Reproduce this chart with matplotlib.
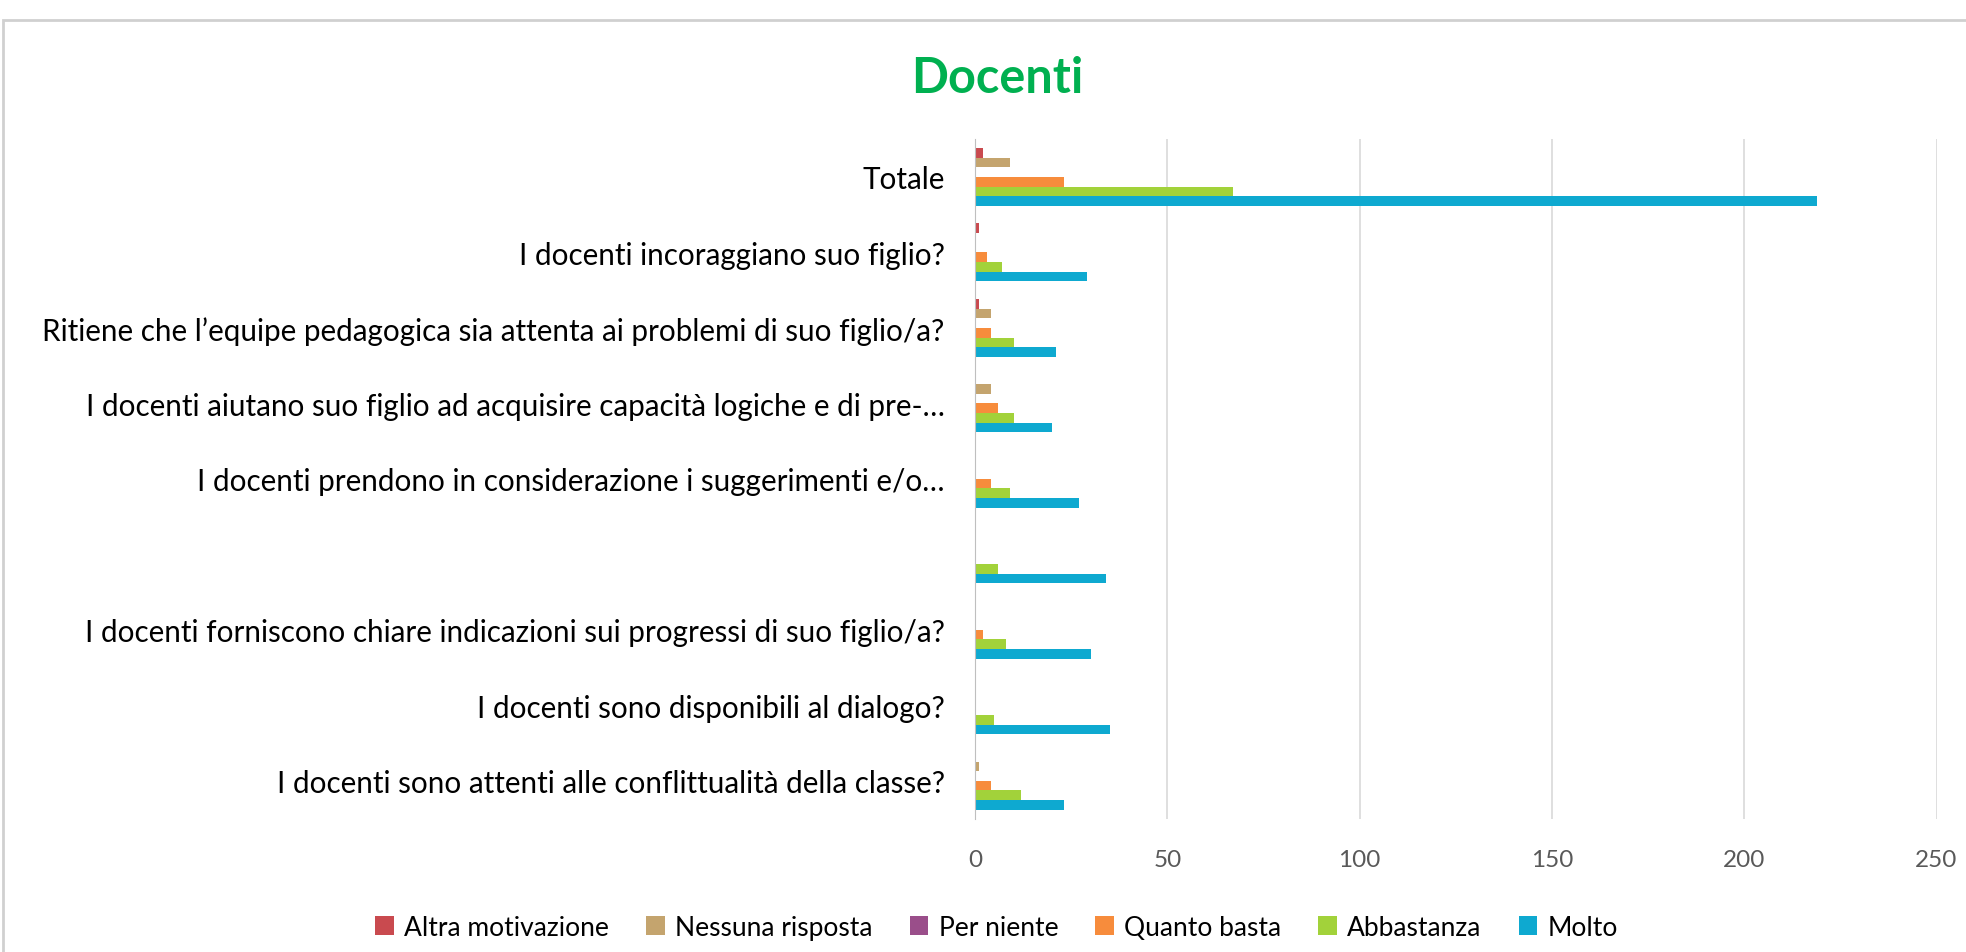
import matplotlib.pyplot as plt
from matplotlib.patches import Rectangle
import numpy as np

plt.rcParams['font.family'] = ['Lato', 'DejaVu Sans']

categories = [
    "Totale",
    "I docenti incoraggiano suo figlio?",
    "Ritiene che l\u2019equipe pedagogica sia attenta ai problemi di suo figlio/a?",
    "I docenti aiutano suo figlio ad acquisire capacità logiche e di pre-\u2026",
    "I docenti prendono in considerazione i suggerimenti e/o\u2026",
    "",
    "I docenti forniscono chiare indicazioni sui progressi di suo figlio/a?",
    "I docenti sono disponibili al dialogo?",
    "I docenti sono attenti alle conflittualità della classe?",
]

series_names = ["Altra motivazione", "Nessuna risposta", "Per niente",
                "Quanto basta", "Abbastanza", "Molto"]
altra = [2, 1, 1, 0, 0, 0, 0, 0, 0]
nessuna = [9, 0, 4, 4, 0, 0, 0, 0, 1]
per_niente = [0, 0, 0, 0, 0, 0, 0, 0, 0]
quanto = [23, 3, 4, 6, 4, 0, 2, 0, 4]
abbastanza = [67, 7, 10, 10, 9, 6, 8, 5, 12]
molto = [219, 29, 21, 20, 27, 34, 30, 35, 23]
colors = ["#C94A4F", "#C4A46E", "#9A4E8A", "#F78C3C", "#A2D23A", "#0EA9D0"]

fig = plt.figure(figsize=(19.66, 9.53), dpi=100)
ax = fig.add_axes([0.496, 0.140, 0.489, 0.713])

y = np.arange(len(categories))
h = 0.128
for j, (name, vals) in enumerate(zip(series_names,
                                     [altra, nessuna, per_niente, quanto, abbastanza, molto])):
    ax.barh(y + (j - 2.5) * h, vals, height=h, color=colors[j], label=name)

ax.set_xlim(0, 250)
ax.set_ylim(len(categories) - 0.5, -0.5)
ax.set_xticks(np.arange(0, 251, 50))
ax.set_yticks(y)
ax.set_yticklabels(categories, fontsize=21.3, color="#000000")
ax.tick_params(axis="y", length=0, pad=22)
ax.tick_params(axis="x", length=0, pad=22, labelsize=17.5, labelcolor="#595959")
ax.grid(axis="x", color="#D9D9D9", linewidth=1.2)
ax.set_axisbelow(True)
for s in ["top", "right", "bottom"]:
    ax.spines[s].set_visible(False)
ax.spines["left"].set_color("#BFBFBF")

fig.text(0.507, 0.918, "Docenti", color="#00B050", fontsize=35, fontweight="bold",
         ha="center", va="center")

fig.legend(loc="center", bbox_to_anchor=(0.507, 0.026), ncol=6, frameon=False,
           fontsize=19, handlelength=0.7, handleheight=0.7, handletextpad=0.4,
           columnspacing=1.4)

fig.patches.append(Rectangle((0.0015, -0.1), 1.1, 1.078, transform=fig.transFigure,
                             fill=False, edgecolor="#D0D0D0", linewidth=2))

plt.savefig("out.png", dpi=100)
plt.close()
